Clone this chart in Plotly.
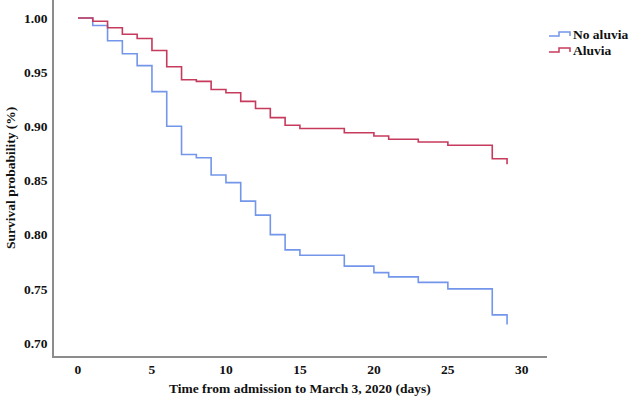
import plotly.graph_objects as go

# Data (Kaplan-Meier step curves)
days_no_aluvia = [0, 1, 2, 3, 4, 5, 6, 7, 8, 9, 10, 11, 12, 13, 14, 15, 18, 20, 21, 23, 25, 28, 29]
surv_no_aluvia = [1.000, 0.993, 0.979, 0.967, 0.956, 0.932, 0.900, 0.874, 0.871, 0.855, 0.848,
                  0.831, 0.818, 0.800, 0.786, 0.781, 0.771, 0.765, 0.761, 0.756, 0.750, 0.726, 0.717]

days_aluvia = [0, 1, 2, 3, 4, 5, 6, 7, 8, 9, 10, 11, 12, 13, 14, 15, 18, 20, 21, 23, 25, 28, 29]
surv_aluvia = [1.000, 0.997, 0.991, 0.985, 0.981, 0.970, 0.955, 0.943, 0.9415, 0.934, 0.931,
               0.923, 0.9165, 0.908, 0.901, 0.898, 0.894, 0.891, 0.888, 0.8855, 0.8825, 0.870, 0.865]

x_ticks = [0, 5, 10, 15, 20, 25, 30]
y_ticks = [0.70, 0.75, 0.80, 0.85, 0.90, 0.95, 1.00]
series_names = ["No aluvia", "Aluvia"]

BLUE = "#7396ea"
RED = "#c63a5c"
FONT = "Liberation Serif, Times New Roman, serif"

W, H = 630, 404
L, R, T, B = 54, 83, 0, 48
pw, ph = W - L - R, H - T - B


def px(x):
    return (x - L) / pw


def py(y):
    return (H - B - y) / ph


fig = go.Figure()
fig.add_trace(go.Scatter(x=days_no_aluvia, y=surv_no_aluvia, mode="lines", line_shape="hv",
                         line=dict(color=BLUE, width=1.6), name=series_names[0], showlegend=False))
fig.add_trace(go.Scatter(x=days_aluvia, y=surv_aluvia, mode="lines", line_shape="hv",
                         line=dict(color=RED, width=1.6), name=series_names[1], showlegend=False))

# Custom legend with step icons
shapes = []
annotations = []
for i, (name, col) in enumerate(zip(series_names, [BLUE, RED])):
    yb = 36 + i * 16
    path = (f"M {px(549)},{py(yb)} L {px(559)},{py(yb)} L {px(559)},{py(yb-4)} "
            f"L {px(570)},{py(yb-4)} L {px(570)},{py(yb)}")
    shapes.append(dict(type="path", path=path, xref="paper", yref="paper",
                       line=dict(color=col, width=1.5)))
    annotations.append(dict(text=f"<b>{name}</b>", x=px(571), y=py(yb - 2), xref="paper", yref="paper",
                            xanchor="left", yanchor="middle", showarrow=False,
                            font=dict(family=FONT, size=13.5, color="#111")))

annotations.append(dict(text="<b>Survival probability (%)</b>", textangle=-90, x=px(10), y=py(178),
                        xref="paper", yref="paper", xanchor="center", yanchor="middle",
                        showarrow=False, font=dict(family=FONT, size=13.5, color="#111")))
annotations.append(dict(text="<b>Time from admission to March 3, 2020 (days)</b>", x=px(300), y=py(388),
                        xref="paper", yref="paper", xanchor="center", yanchor="middle",
                        showarrow=False, font=dict(family=FONT, size=13.5, color="#111")))

fig.update_layout(
    width=W, height=H,
    margin=dict(l=L, r=R, t=T, b=B, pad=0),
    paper_bgcolor="white", plot_bgcolor="white",
    shapes=shapes, annotations=annotations,
    font=dict(family=FONT, color="#111"),
    showlegend=False,
)
fig.update_xaxes(range=[-1.62, 31.7], tickvals=x_ticks, ticktext=[f"<b>{v}</b>" for v in x_ticks],
                 showgrid=False, zeroline=False, showline=True, linecolor="#8c8c8c", linewidth=1.5,
                 ticks="", ticklabelstandoff=0, tickfont=dict(family=FONT, size=13.5, color="#111"))
fig.update_yaxes(range=[0.688, 1.0166], tickvals=y_ticks, ticktext=[f"<b>{v:.2f}</b>" for v in y_ticks],
                 showgrid=False, zeroline=False, showline=True, linecolor="#8c8c8c", linewidth=1.5,
                 ticks="", ticklabelstandoff=2, tickfont=dict(family=FONT, size=13.5, color="#111"))

fig.write_html("out.html", config={"displayModeBar": False},
               post_script="document.body.style.margin='0';")
